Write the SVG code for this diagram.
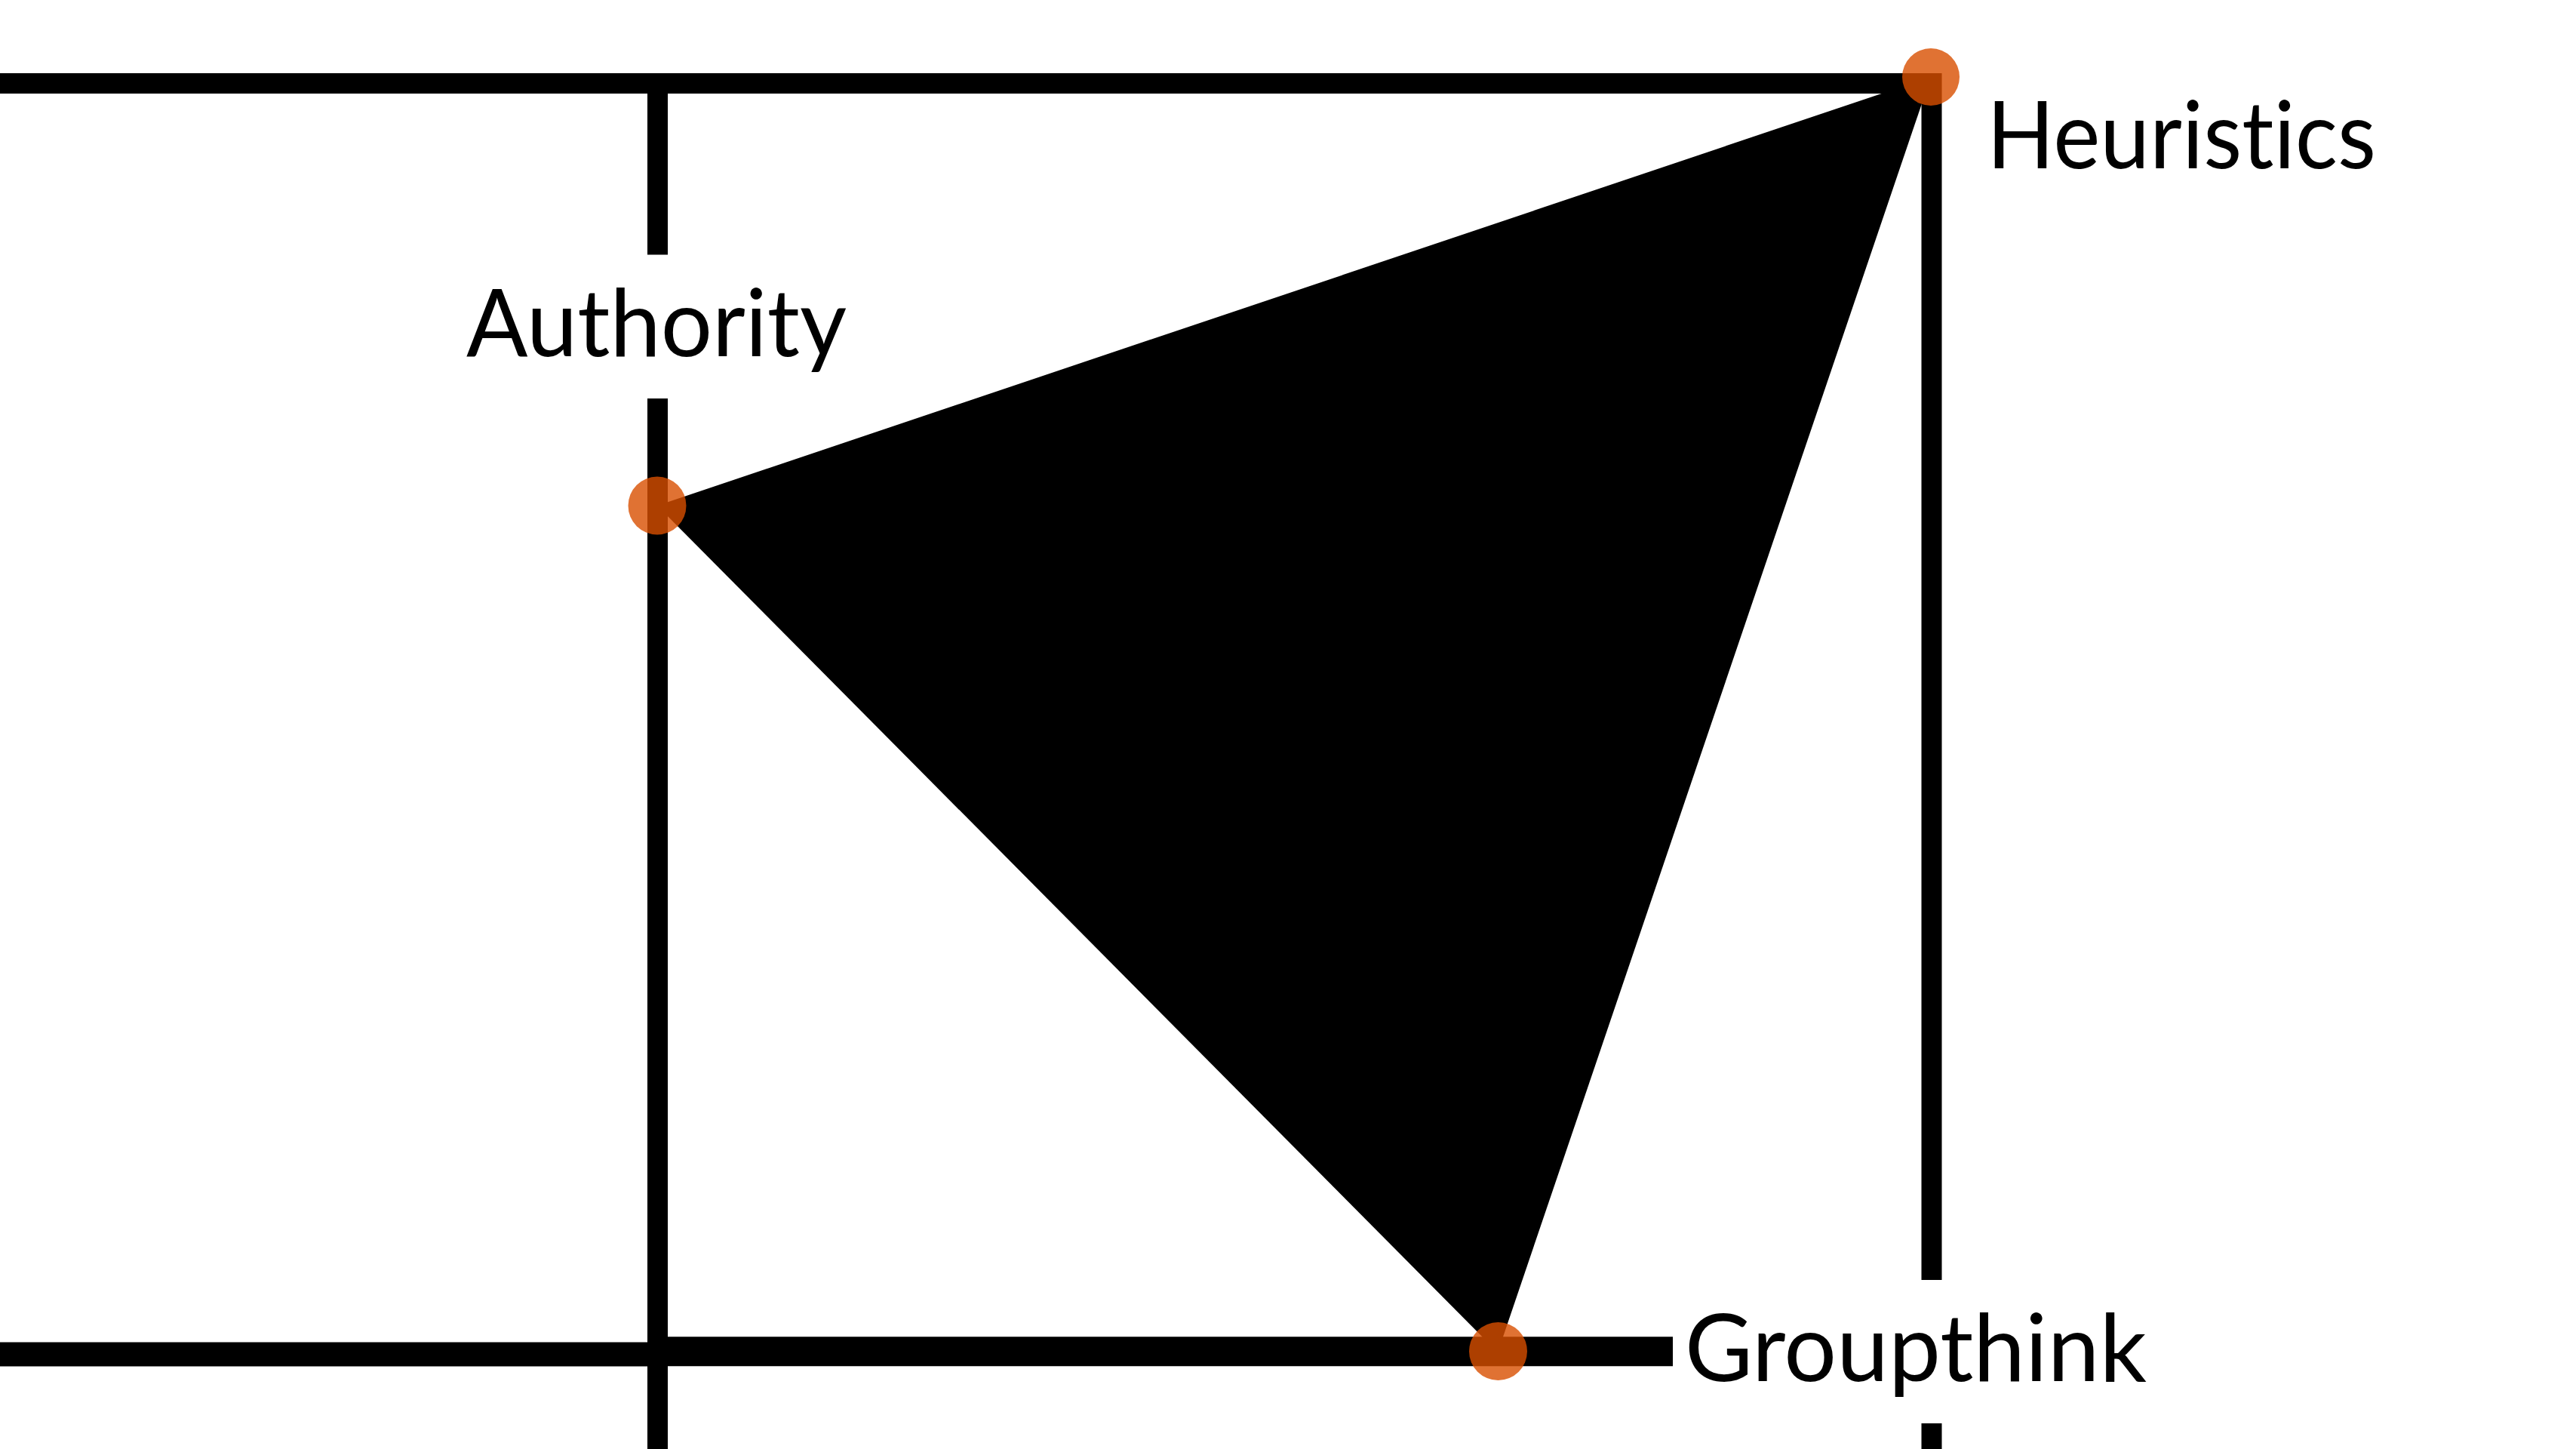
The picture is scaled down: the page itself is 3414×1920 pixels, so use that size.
<svg xmlns="http://www.w3.org/2000/svg" width="3414" height="1920" viewBox="0 0 3414 1920">
<style>
.ln{stroke:#000;fill:none}
.dot{fill:#D84F00;fill-opacity:0.8}
.lbl{font-family:Lato,"Open Sans","Liberation Sans",sans-serif;font-size:125px;fill:#000;font-variant-ligatures:none;font-feature-settings:"liga" 0,"dlig" 0}
</style>
<rect width="3414" height="1920" fill="#fff"/>
<g id="connectors">
<polygon points="871,670 2559,102 1985,1792" fill="#000"/>
<line class="ln" x1="0" y1="110.5" x2="2573" y2="110.5" stroke-width="27"/>
<line class="ln" x1="871.5" y1="97" x2="871.5" y2="337.5" stroke-width="27"/>
<line class="ln" x1="871.5" y1="528" x2="871.5" y2="1920" stroke-width="27"/>
<line class="ln" x1="2560" y1="97" x2="2560" y2="1696" stroke-width="27"/>
<line class="ln" x1="2560" y1="1886" x2="2560" y2="1920" stroke-width="27"/>
<line class="ln" x1="0" y1="1794.5" x2="871.5" y2="1794.5" stroke-width="32"/>
<line class="ln" x1="871.5" y1="1790.7" x2="2217" y2="1790.7" stroke-width="39"/>
</g>
<g id="node-heuristics">
<circle class="dot" cx="2559" cy="102" r="38"/>
<text class="lbl" x="2633" y="223" textLength="516" lengthAdjust="spacingAndGlyphs">Heuristics</text>
</g>
<g id="node-authority">
<circle class="dot" cx="871" cy="670" r="38.5"/>
<text class="lbl" x="618" y="472" textLength="504" lengthAdjust="spacingAndGlyphs">Authority</text>
</g>
<g id="node-groupthink">
<circle class="dot" cx="1985.5" cy="1790.5" r="38.5"/>
<text class="lbl" x="2233" y="1830" textLength="612" lengthAdjust="spacingAndGlyphs">Groupthink</text>
</g>
</svg>
